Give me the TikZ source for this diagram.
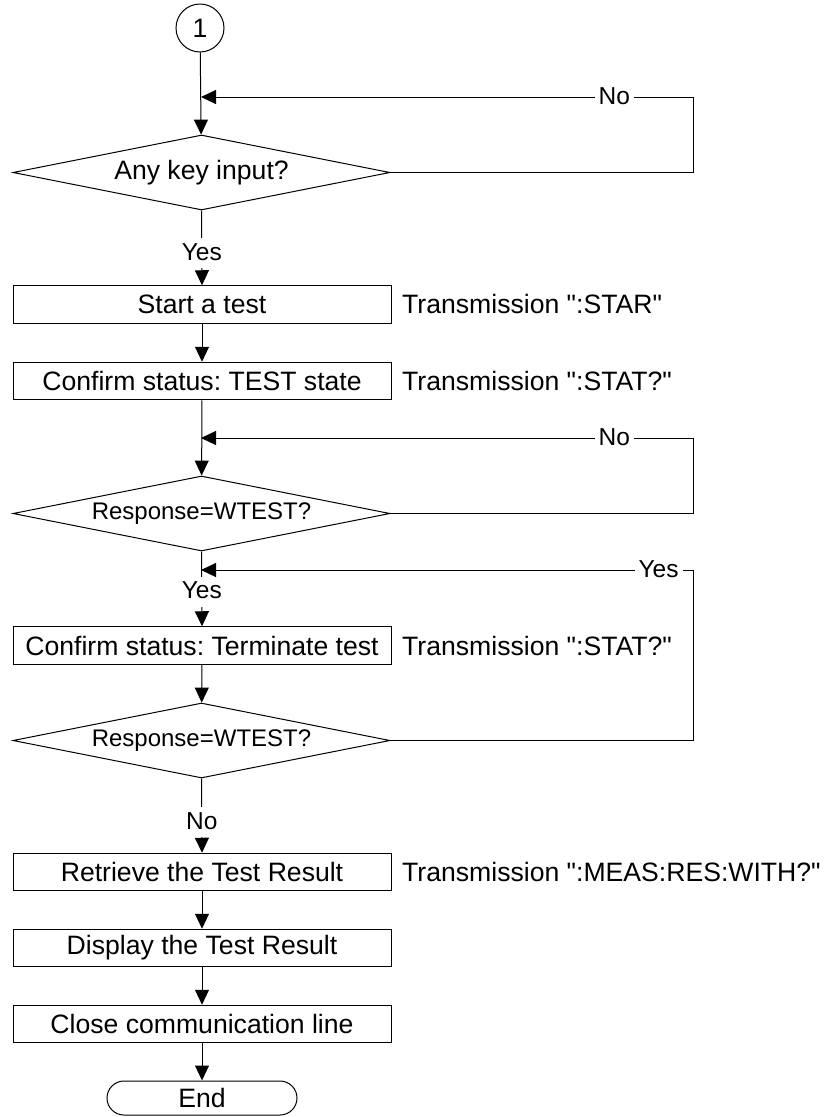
\documentclass[tikz,border=0pt]{standalone}
\usepackage{fontspec}
\setmainfont{Liberation Sans}[Ligatures=TeXOff]
\usetikzlibrary{shapes.geometric,arrows.meta}
\frenchspacing
\begin{document}
\begin{tikzpicture}[x=1pt,y=-1pt,
  every node/.style={font=\fontsize{26.6}{30}\selectfont},
  proc/.style={draw,line width=1pt,rectangle,minimum width=378pt,minimum height=37.5pt,inner sep=0pt},
  dec/.style={draw,line width=1pt,diamond,minimum width=377pt,minimum height=75pt,inner sep=0pt,aspect=5},
  conn/.style={draw,line width=1pt,circle,minimum size=48pt,inner sep=0pt},
  term/.style={draw,line width=1pt,rectangle,rounded corners=17pt,minimum width=190pt,minimum height=34pt,inner sep=0pt},
  note/.style={anchor=west,inner sep=0pt},
  lab/.style={fill=white,inner xsep=4pt,inner ysep=5pt,text height=17pt,text depth=3pt,font=\fontsize{24.5}{28}\selectfont},
  arr/.style={line width=1pt,-{Triangle[width=14pt,length=15pt]}},
  ln/.style={line width=1pt}]
\useasboundingbox (0,0) rectangle (826,1117);

\node[conn] (c1) at (200,28) {1};
\node[dec] (d1) at (201.5,172.5) {Any key input?};
\node[proc] (b1) at (202,304.5) {Start a test};
\node[proc] (b2) at (202,381) {Confirm status: TEST state};
\node[dec,font=\fontsize{24}{28}\selectfont] (d2) at (201.5,513.5) {Response=WTEST?};
\node[proc] (b3) at (202,645.5) {Confirm status: Terminate test};
\node[dec,font=\fontsize{24}{28}\selectfont] (d3) at (201.5,740.5) {Response=WTEST?};
\node[proc] (b4) at (202,872) {Retrieve the Test Result};
\node[proc] (b5) at (202,948) {Display the Test Result};
\node[proc] (b6) at (202,1024) {Close communication line};
\node[term] (e) at (202,1098) {End};

\node[note] (n1) at (402,304) {Transmission ":STAR"};
\node[note] (n2) at (402,381) {Transmission ":STAT?"};
\node[note] (n3) at (402,645.5) {Transmission ":STAT?"};
\node[note] (n4) at (402,872) {Transmission ":MEAS:RES:WITH?"};

\coordinate (j1) at (201,97);
\coordinate (r1a) at (693,172.5);
\coordinate (r1b) at (693,97);
\coordinate (j2) at (201,438);
\coordinate (r2a) at (693,513.5);
\coordinate (r2b) at (693,438);
\coordinate (j3) at (201,570);
\coordinate (r3a) at (693,740.5);
\coordinate (r3b) at (693,570);

\draw[arr] (c1) -- (d1);
\draw[arr] (d1.east) -- (r1a) -- (r1b) -- node[lab,pos=0.16]{No} (j1);
\draw[arr] (d1.south) -- node[lab,pos=0.57]{Yes} (b1.north);
\draw[arr] (b1) -- (b2);
\draw[arr] (b2) -- (d2);
\draw[arr] (d2.east) -- (r2a) -- (r2b) -- node[lab,pos=0.16]{No} (j2);
\draw[arr] (d2.south) -- node[lab,pos=0.54]{Yes} (b3.north);
\draw[arr] (d3.east) -- (r3a) -- (r3b) -- node[lab,pos=0.07]{Yes} (j3);
\draw[arr] (b3) -- (d3);
\draw[arr] (d3.south) -- node[lab,pos=0.59]{No} (b4.north);
\draw[arr] (b4) -- (b5);
\draw[arr] (b5) -- (b6);
\draw[arr] (b6) -- (e);
\end{tikzpicture}
\end{document}
